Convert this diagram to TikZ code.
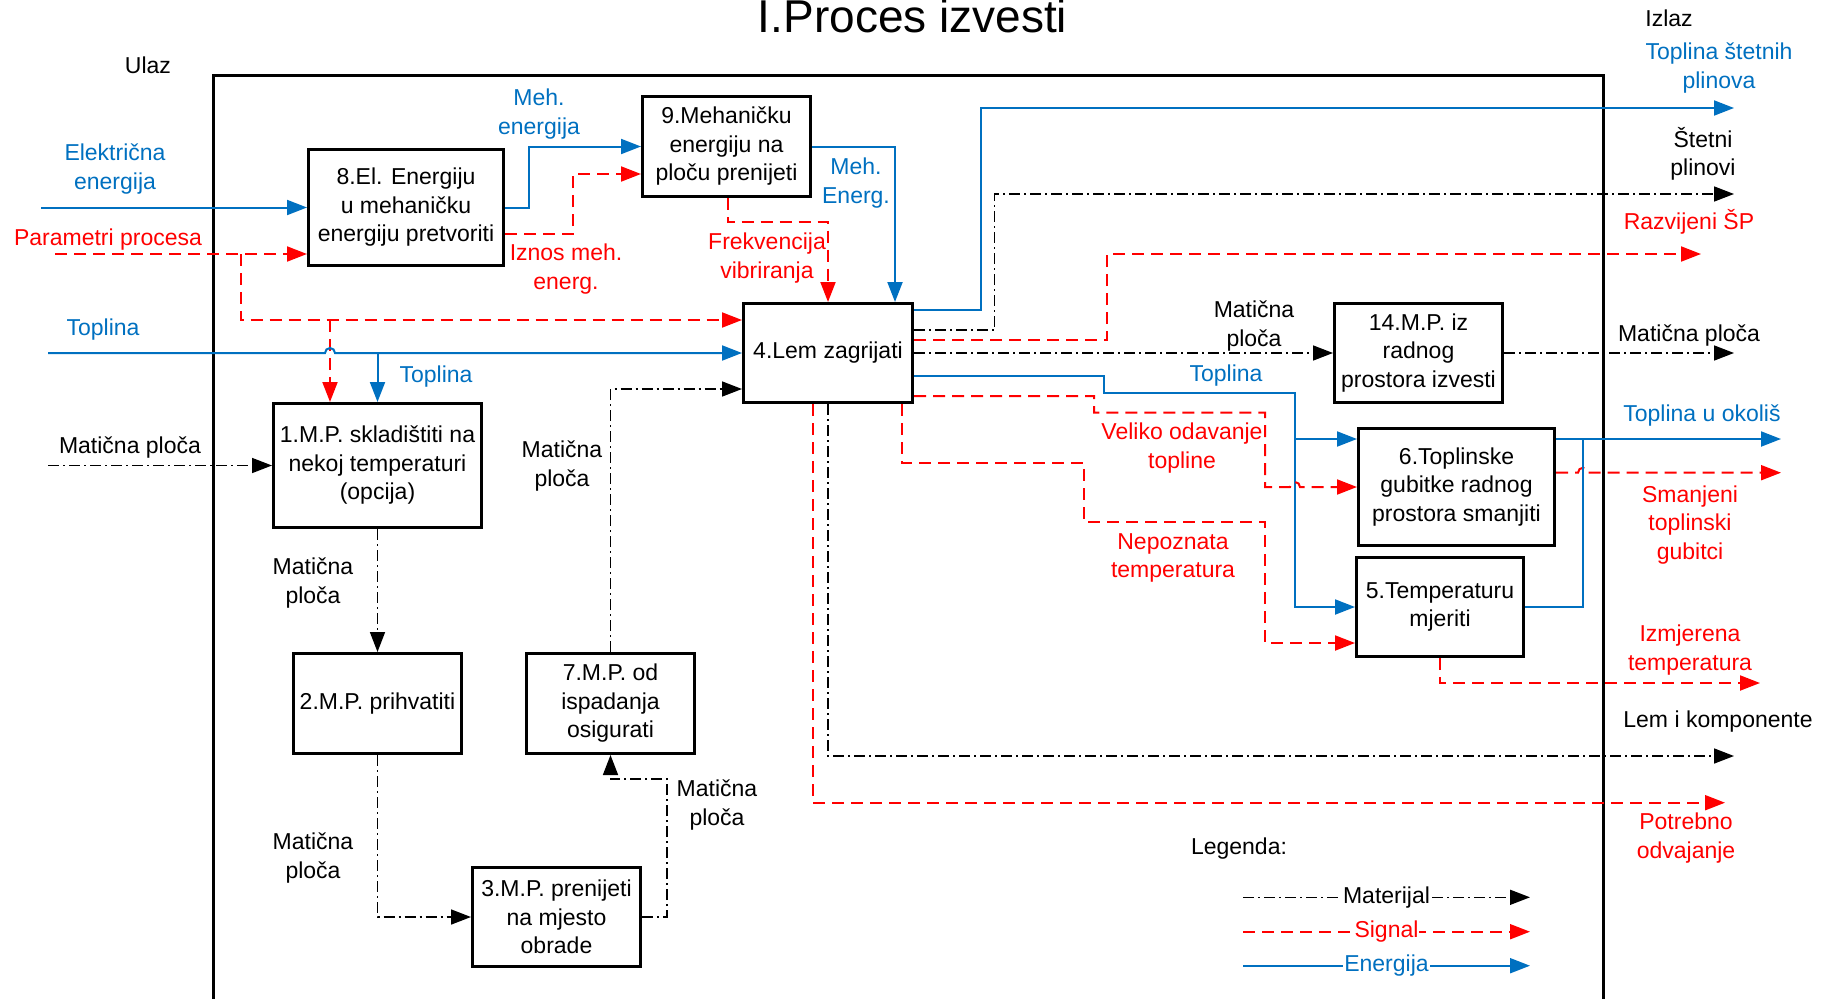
\documentclass[tikz,border=0pt]{standalone}
\usepackage{fontspec}
\setmainfont{Liberation Sans}
\usetikzlibrary{arrows.meta}
\definecolor{eblue}{RGB}{0,112,192}
\definecolor{sred}{RGB}{255,0,0}
\newcommand\bodyfont{\fontsize{23}{28.5}\selectfont}
\tikzset{
  arrowend/.style={-{Triangle[length=20pt,width=15pt]}},
  en/.style={draw=eblue, line width=2pt, arrowend},
  sig/.style={draw=sred, line width=2pt, dash pattern=on 12pt off 7pt, arrowend},
  mat/.style={draw=black, line width=1.6pt, dash pattern=on 11pt off 4pt on 2pt off 4pt, arrowend},
  box/.style={draw, line width=3pt, align=center, font=\bodyfont, inner sep=1pt},
  lbl/.style={align=center, font=\bodyfont, inner sep=0pt},
  lblb/.style={lbl, text=eblue},
  lblr/.style={lbl, text=sred},
}
\begin{document}
\begin{tikzpicture}[x=1pt,y=-1pt]
\useasboundingbox (0,0) rectangle (1827,998);
% frame
\draw[line width=3pt] (213,1010) -- (213,75) -- (1603,75) -- (1603,1010);
% title and headers
\node[font=\fontsize{46}{50}\selectfont, anchor=base, inner sep=0pt] (title) at (912.5,33) {I.Proces izvesti};
\node[lbl] (ulaz) at (148,65) {Ulaz};
\node[lbl] (izlaz) at (1669,18) {Izlaz};
% boxes
\node[box, minimum width=195pt, minimum height=116pt] (b8) at (406,207.5) {8.El. Energiju\\u mehaničku\\energiju pretvoriti};
\node[box, minimum width=168pt, minimum height=100pt] (b9) at (726.5,146.5) {9.Mehaničku\\energiju na\\ploču prenijeti};
\node[box, minimum width=169pt, minimum height=99pt] (b4) at (828,353) {4.Lem zagrijati};
\node[box, minimum width=208pt, minimum height=124pt] (b1) at (377.5,465.5) {1.M.P. skladištiti na\\nekoj temperaturi\\(opcija)};
\node[box, minimum width=168pt, minimum height=100pt] (b2) at (377.5,703.5) {2.M.P. prihvatiti};
\node[box, minimum width=168pt, minimum height=100pt] (b7) at (610.5,703.5) {7.M.P. od\\ispadanja\\osigurati};
\node[box, minimum width=168pt, minimum height=99pt] (b3) at (556.5,917) {3.M.P. prenijeti\\na mjesto\\obrade};
\node[box, minimum width=168pt, minimum height=99pt] (b14) at (1418.5,353) {14.M.P. iz\\radnog\\prostora izvesti};
\node[box, minimum width=196pt, minimum height=117pt] (b6) at (1456.5,487) {6.Toplinske\\gubitke radnog\\prostora smanjiti};
\node[box, minimum width=167pt, minimum height=99pt] (b5) at (1440,607) {5.Temperaturu\\mjeriti};
% free ends
\coordinate (inE) at (41,207.5);
\coordinate (inP) at (55,254);
\coordinate (inT) at (48,353);
\coordinate (inM) at (48,465.5);
\coordinate (pJ) at (240.5,254);
\coordinate (pJ2) at (330,320);
\coordinate (tJ) at (377.5,353);
\coordinate (oA) at (1734,108);
\coordinate (oB) at (1734,194);
\coordinate (oC) at (1701,254);
\coordinate (oD) at (1734,353);
\coordinate (oG) at (1725,802.7);
\coordinate (oH) at (1734,756);
\coordinate (oT) at (1781,439);
\coordinate (oS) at (1781,472.7);
\coordinate (oI) at (1760,683);
\coordinate (eJ) at (1295,392.7);
\coordinate (tJ2) at (1583,439);
% inputs
\draw[en] (inE) -- (b8.west);
\draw[sig] (inP) -- ([yshift=-46.5pt]b8.west);
\draw[sig] (pJ) |- ([yshift=33pt]b4.west);
\draw[sig] (pJ2) -- ([xshift=-47.5pt]b1.north);
\draw[en] (inT) -- (325,353) arc[start angle=180,end angle=0,radius=5pt] -- (b4.west);
\draw[en] (tJ) -- (b1.north);
\draw[mat] (inM) -- (b1.west);
% 8 -> 9
\draw[en] (b8.east) -- ++(24,0) |- (b9.west);
\draw[sig] ([yshift=-26.5pt]b8.east) -- ++(68,0) |- ([yshift=-27.5pt]b9.west);
% 9 -> 4
\draw[en] (b9.east) -| ([xshift=67pt]b4.north);
\draw[sig] ([xshift=1pt]b9.south) -- ++(0,24) -| (b4.north);
% 4 outputs
\draw[en] ([yshift=43pt]b4.east) -- ++(67,0) |- (oA);
\draw[mat] ([yshift=23pt]b4.east) -- ++(80.6,0) |- (oB);
\draw[sig] ([yshift=13pt]b4.east) -- ++(193,0) |- (oC);
\draw[mat] (b4.east) -- (b14.west);
\draw[mat] (b14.east) -- (oD);
\draw[en] ([yshift=-23pt]b4.east) -- ++(190,0) |- (eJ) |- ([yshift=48pt]b6.west);
\draw[en] (eJ) |- (b5.west);
\draw[sig] ([yshift=-43pt]b4.east) -- ++(180,0) |- (1265,412.7) |- (1290,487) arc[start angle=180,end angle=0,radius=5pt] -- (b6.west);
\draw[sig] ([xshift=74pt]b4.south) |- (1084,462.7) |- (1265,521.7) |- ([yshift=-36pt]b5.west);
\draw[sig] ([xshift=-15pt]b4.south) |- (oG);
\draw[mat] (b4.south) |- (oH);
% 6, 5 outputs
\draw[en] ([yshift=48pt]b6.east) -- (oT);
\draw[sig] ([yshift=14.3pt]b6.east) -- (1578,472.7) arc[start angle=180,end angle=0,radius=5pt] -- (oS);
\draw[en, -] (b5.east) -| (tJ2);
\draw[sig] (b5.south) |- (oI);
% material chain
\draw[mat] (b1.south) -- (b2.north);
\draw[mat] (b2.south) |- (b3.west);
\draw[mat] (b3.east) -- ++(25,0) |- ([yshift=-24pt]b7.south) -- (b7.south);
\draw[mat] (b7.north) |- ([yshift=-36pt]b4.west);
% labels
\node[lblb] (lE) at (115,169) {Električna\\energija};
\node[lblr] (lP) at (108,240) {Parametri procesa};
\node[lblb] (lT) at (103,330) {Toplina};
\node[lblb] (lT2) at (436,377) {Toplina};
\node[lbl] (lM) at (130,448) {Matična ploča};
\node[lblb] (lME) at (539,114) {Meh.\\energija};
\node[lblr] (lIz) at (566,269) {Iznos meh.\\energ.};
\node[lblb] (lME2) at (856,183) {Meh.\\Energ.};
\node[lblr] (lFr) at (767,258) {Frekvencija\\vibriranja};
\node[lblb] (lTS) at (1719,68) {Toplina štetnih\\plinova};
\node[lbl] (lSP) at (1703,154) {Štetni\\plinovi};
\node[lblr] (lRS) at (1689,222) {Razvijeni ŠP};
\node[lbl] (lM14) at (1254,326) {Matična\\ploča};
\node[lbl] (lM14o) at (1689,336) {Matična ploča};
\node[lblb] (lT3) at (1226,376) {Toplina};
\node[lblr] (lVO) at (1182,448) {Veliko odavanje\\topline};
\node[lblr] (lNT) at (1173,558) {Nepoznata\\temperatura};
\node[lblb] (lTO) at (1702,416) {Toplina u okoliš};
\node[lblr] (lSm) at (1690,525) {Smanjeni\\toplinski\\gubitci};
\node[lblr] (lIT) at (1690,650) {Izmjerena\\temperatura};
\node[lbl] (lLK) at (1718,722) {Lem i komponente};
\node[lblr] (lPO) at (1686,838) {Potrebno\\odvajanje};
\node[lbl] (lM12) at (313,583) {Matična\\ploča};
\node[lbl] (lM23) at (313,858) {Matična\\ploča};
\node[lbl] (lM37) at (717,805) {Matična\\ploča};
\node[lbl] (lM74) at (562,466) {Matična\\ploča};
% legend
\node[lbl] (leg) at (1239,849) {Legenda:};
\coordinate (lM1) at (1243,897.3);
\coordinate (lM2) at (1530,897.3);
\coordinate (lS1) at (1243,931.7);
\coordinate (lS2) at (1530,931.7);
\coordinate (lE1) at (1243,965.7);
\coordinate (lE2) at (1530,965.7);
\draw[mat] (lM1) -- node[lbl, fill=white, inner sep=1pt] (lgM) {Materijal} (lM2);
\draw[sig] (lS1) -- node[lblr, fill=white, inner sep=1pt] (lgS) {Signal} (lS2);
\draw[en] (lE1) -- node[lblb, fill=white, inner sep=1pt] (lgE) {Energija} (lE2);
\end{tikzpicture}
\end{document}
